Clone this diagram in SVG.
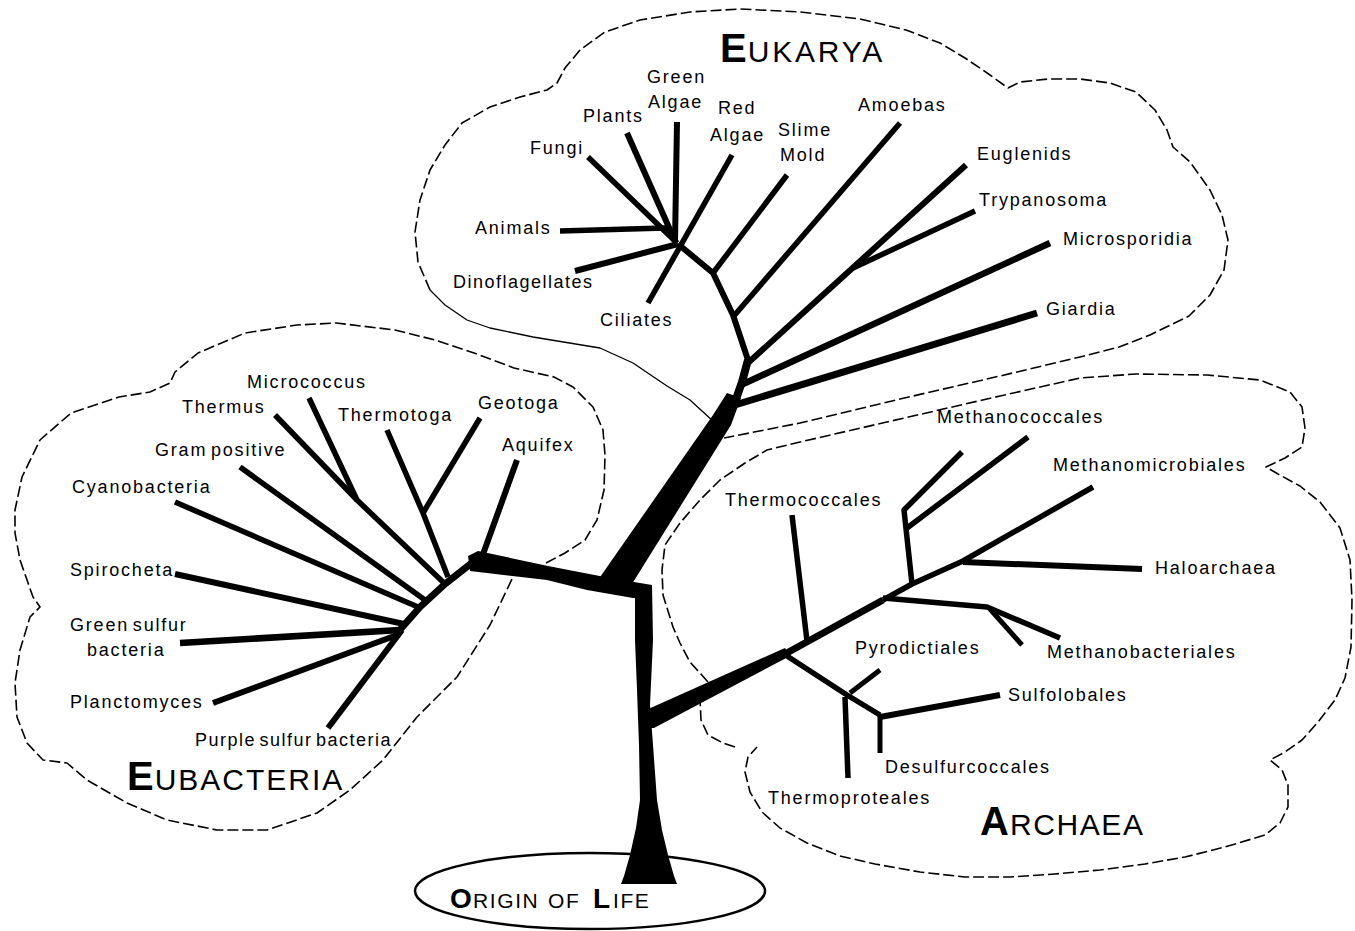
<svg xmlns="http://www.w3.org/2000/svg" width="1355" height="931" viewBox="0 0 1355 931">
<style>
.lbl{font-family:"Liberation Sans",Arial,sans-serif;font-size:18px;letter-spacing:1.8px;word-spacing:-3px;fill:#000}
.big{font-family:"Liberation Sans",Arial,sans-serif;font-weight:bold;font-size:40px;fill:#000}
.sc{font-family:"Liberation Sans",Arial,sans-serif;font-size:30px;letter-spacing:2px;fill:#000}
.obig{font-family:"Liberation Sans",Arial,sans-serif;font-weight:bold;font-size:28px;fill:#000}
.osc{font-family:"Liberation Sans",Arial,sans-serif;font-size:21px;letter-spacing:1.6px;fill:#000}
.br{fill:none;stroke:#000;stroke-width:5.5;stroke-linejoin:round;stroke-linecap:butt}
.cl{fill:none;stroke:#000;stroke-width:1.6;stroke-dasharray:11 4;stroke-linejoin:round}
.cls{fill:none;stroke:#000;stroke-width:1.3;stroke-linejoin:round}
</style>
<rect width="1355" height="931" fill="#fff"/>

<g id="eukarya">
<path class="cls" d="M714,422 L690,400 L667,386 L633,363 L600,348 L533,337 L490,328 L467,320 L445,305 L430,290"/>
<path class="cl" d="M430,290 L418,262 L415,232 L420,200 L430,170 L445,145 L462,123 L490,107 L520,97 L547,90 L557,83 L565,68 L580,50 L605,32 L640,20 L690,12 L740,9 L800,12 L860,19 L906,30 L940,43 L965,58 L990,75 L1008,88 L1020,82 L1048,79 L1080,79 L1110,83 L1136,92 L1155,110 L1167,130 L1173,147 L1190,162 L1210,190 L1222,215 L1228,240 L1224,270 L1210,295 L1189,316 L1150,335 L1119,347 L1080,357 L1000,376 L900,399 L800,423 L724,438"/>
<text x="720" y="62"><tspan class="big">E</tspan><tspan class="sc" dx="1" style="letter-spacing:2.8px">UKARYA</tspan></text>
</g>

<g id="eubacteria">
<path class="cl" d="M546,563 L565,553 L585,540 L597,520 L604,490 L605,455 L603,430 L593,407 L573,387 L554,377 L514,368 L474,353 L435,340 L395,330 L336,323 L297,325 L245,333 L198,353 L175,372 L170,383 L150,392 L119,397 L71,413 L40,440 L22,477 L15,510 L15,533 L20,560 L33,597 L40,607 L30,617 L20,650 L15,683 L17,717 L27,743 L43,760 L67,763 L87,780 L127,803 L167,820 L217,830 L267,830 L317,813 L350,790 L383,760 L417,717 L457,677 L490,625 L513,577"/>
<text x="127" y="790"><tspan class="big">E</tspan><tspan class="sc" dx="1">UBACTERIA</tspan></text>
</g>

<g id="archaea">
<path class="cl" d="M708,682 L690,662 L680,643 L673,627 L663,595 L662,570 L665,545 L680,523 L700,500 L720,480 L745,463 L767,450 L800,442 L900,419 L1000,396 L1080,378 L1136,374 L1207,375 L1260,380 L1290,392 L1302,407 L1305,428 L1302,447 L1285,458 L1266,467 L1278,474 L1300,486 L1320,502 L1340,528 L1350,560 L1352,600 L1351,647 L1345,678 L1335,700 L1318,722 L1302,740 L1285,752 L1270,760 L1282,770 L1288,785 L1288,807 L1280,823 L1265,835 L1225,847 L1185,857 L1145,864 L1100,870 L1055,874 L1010,877 L965,877 L920,872 L875,864 L840,856 L807,843 L780,828 L762,812 L750,792 L745,772 L748,757 L757,747 M735,747 L723,743 L708,735 L701,720 L700,700"/>
<text x="980" y="835"><tspan class="big">A</tspan><tspan class="sc" dx="1" style="letter-spacing:1.6px">RCHAEA</tspan></text>
</g>

<g id="origin">
<ellipse cx="590" cy="891" rx="175" ry="38" fill="none" stroke="#000" stroke-width="2.5"/>
<text y="908"><tspan class="obig" x="450">O</tspan><tspan class="osc" x="473">RIGIN</tspan><tspan class="osc" x="548">OF</tspan><tspan class="obig" x="593">L</tspan><tspan class="osc" x="613">IFE</tspan></text>
</g>

<g id="connectors">
<polygon points="635,586 652,585 653,640 650,705 653,745 657,800 662,830 668,855 674,876 677,884 621,884 624,876 630,855 636,828 640,800 639,745 637,690 635,640"/>
<polygon points="468,556 478,551 548,566 610,578 640,583 652,585 652,598 633,598 587,590 547,580 470,571"/>
<polygon points="598,580 713,415 727,393 741,398 731,425 627,592 640,590"/>
<polygon points="646,710 785,648 790,656 654,728 645,728"/>
<path class="br" style="stroke-width:8" d="M735,402 L742,382 L748,360"/>
<path class="br" style="stroke-width:6" d="M748,360 L733,315 L713,273 L678,244"/>
<path class="br" style="stroke-width:6" d="M677,122 L675,242"/>
<path class="br" style="stroke-width:6" d="M627,133 L675,241"/>
<path class="br" d="M588,157 L676,242"/>
<path class="br" d="M560,231 L665,228 L677,243"/>
<path class="br" style="stroke-width:6" d="M575,271 L678,244"/>
<path class="br" d="M732,155 L648,303"/>
<path class="br" d="M787,175 L713,273"/>
<path class="br" d="M900,123 L733,317"/>
<path class="br" style="stroke-width:6" d="M966,165 L749,362"/>
<path class="br" d="M975,211 L853,268"/>
<path class="br" style="stroke-width:6.5" d="M1050,243 L741,385"/>
<path class="br" style="stroke-width:7" d="M1037,313 L735,405"/>
<path class="br" style="stroke-width:7" d="M473,562 L445,584 L420,607 L398,632"/>
<path class="br" style="stroke-width:6" d="M482,557 L517,460"/>
<path class="br" d="M448,577 L423,513 L387,430"/>
<path class="br" d="M423,513 L480,418"/>
<path class="br" d="M443,582 L357,500 L309,398"/>
<path class="br" d="M357,500 L275,415"/>
<path class="br" d="M425,600 L240,467"/>
<path class="br" d="M418,607 L175,502"/>
<path class="br" style="stroke-width:6" d="M404,624 L175,574"/>
<path class="br" style="stroke-width:6.5" d="M400,630 L180,643"/>
<path class="br" style="stroke-width:6" d="M397,635 L213,703"/>
<path class="br" style="stroke-width:6" d="M402,630 L328,728"/>
<path class="br" style="stroke-width:7" d="M785,654 L883,600"/>
<path class="br" d="M883,600 L912,584 L963,561 L1093,487"/>
<path class="br" d="M807,641 L792,515"/>
<path class="br" d="M912,584 L904,510 L962,452"/>
<path class="br" d="M907,528 L1028,437"/>
<path class="br" style="stroke-width:6" d="M963,562 L1142,569"/>
<path class="br" d="M883,598 L987,607 L1060,638"/>
<path class="br" style="stroke-width:5" d="M990,609 L1022,645"/>
<path class="br" d="M787,656 L847,695 L880,715"/>
<path class="br" style="stroke-width:5" d="M850,693 L880,670"/>
<path class="br" style="stroke-width:6" d="M880,717 L1000,695"/>
<path class="br" style="stroke-width:5" d="M880,715 L880,753"/>
<path class="br" d="M845,697 L848,778"/>
</g>

<g id="n-green-algae"><text class="lbl" x="647" y="83">Green</text><text class="lbl" x="648" y="108">Algae</text></g>
<g id="n-plants"><text class="lbl" x="583" y="122">Plants</text></g>
<g id="n-red-algae"><text class="lbl" x="718" y="114">Red</text><text class="lbl" x="710" y="141">Algae</text></g>
<g id="n-slime-mold"><text class="lbl" x="778" y="136">Slime</text><text class="lbl" x="780" y="161">Mold</text></g>
<g id="n-fungi"><text class="lbl" x="530" y="154">Fungi</text></g>
<g id="n-amoebas"><text class="lbl" x="858" y="111">Amoebas</text></g>
<g id="n-euglenids"><text class="lbl" x="977" y="160">Euglenids</text></g>
<g id="n-trypanosoma"><text class="lbl" x="979" y="206">Trypanosoma</text></g>
<g id="n-microsporidia"><text class="lbl" x="1063" y="245">Microsporidia</text></g>
<g id="n-giardia"><text class="lbl" x="1046" y="315">Giardia</text></g>
<g id="n-animals"><text class="lbl" x="475" y="234">Animals</text></g>
<g id="n-dinoflagellates"><text class="lbl" x="453" y="288" style="letter-spacing:1.5px">Dinoflagellates</text></g>
<g id="n-ciliates"><text class="lbl" x="600" y="326">Ciliates</text></g>

<g id="n-micrococcus"><text class="lbl" x="247" y="388">Micrococcus</text></g>
<g id="n-thermus"><text class="lbl" x="182" y="413">Thermus</text></g>
<g id="n-thermotoga"><text class="lbl" x="338" y="421">Thermotoga</text></g>
<g id="n-geotoga"><text class="lbl" x="478" y="409">Geotoga</text></g>
<g id="n-aquifex"><text class="lbl" x="502" y="451">Aquifex</text></g>
<g id="n-gram-positive"><text class="lbl" x="155" y="456">Gram positive</text></g>
<g id="n-cyanobacteria"><text class="lbl" x="72" y="493">Cyanobacteria</text></g>
<g id="n-spirocheta"><text class="lbl" x="70" y="576">Spirocheta</text></g>
<g id="n-green-sulfur"><text class="lbl" x="70" y="631">Green sulfur</text><text class="lbl" x="87" y="656">bacteria</text></g>
<g id="n-planctomyces"><text class="lbl" x="70" y="708">Planctomyces</text></g>
<g id="n-purple-sulfur"><text class="lbl" x="195" y="746" style="letter-spacing:1.5px">Purple sulfur bacteria</text></g>

<g id="n-methanococcales"><text class="lbl" x="937" y="423">Methanococcales</text></g>
<g id="n-methanomicrobiales"><text class="lbl" x="1053" y="471">Methanomicrobiales</text></g>
<g id="n-thermococcales"><text class="lbl" x="725" y="506">Thermococcales</text></g>
<g id="n-haloarchaea"><text class="lbl" x="1155" y="574">Haloarchaea</text></g>
<g id="n-pyrodictiales"><text class="lbl" x="855" y="654">Pyrodictiales</text></g>
<g id="n-methanobacteriales"><text class="lbl" x="1047" y="658">Methanobacteriales</text></g>
<g id="n-sulfolobales"><text class="lbl" x="1008" y="701">Sulfolobales</text></g>
<g id="n-desulfurcoccales"><text class="lbl" x="885" y="773">Desulfurcoccales</text></g>
<g id="n-thermoproteales"><text class="lbl" x="768" y="804">Thermoproteales</text></g>
</svg>
